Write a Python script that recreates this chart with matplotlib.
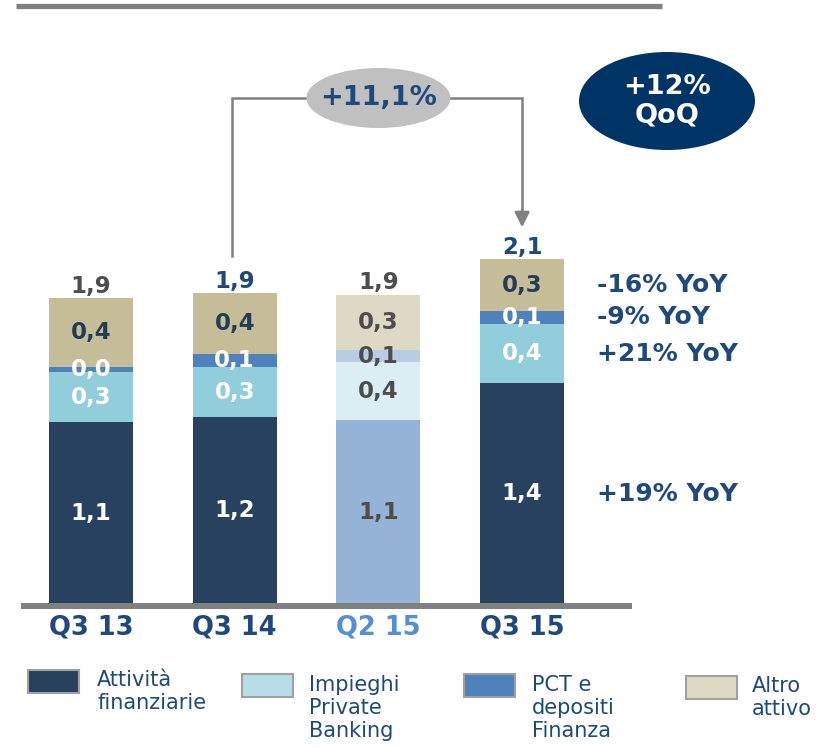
import matplotlib
matplotlib.use("Agg")
import matplotlib.pyplot as plt
import matplotlib.patches as mpatches
from matplotlib.lines import Line2D

# ===== DATI =====
periods = ["Q3 13", "Q3 14", "Q2 15", "Q3 15"]
attivita_fin = [1.13, 1.16, 1.14, 1.37]
impieghi_pb = [0.31, 0.31, 0.36, 0.37]
pct_depositi = [0.03, 0.08, 0.08, 0.08]
altro_attivo = [0.43, 0.38, 0.34, 0.32]
yoy_labels = ["+19% YoY", "+21% YoY", "-9% YoY", "-16% YoY"]
growth_label = "+11,1%"
qoq_label = "+12%\nQoQ"
legend_labels = ["Attività\nfinanziarie", "Impieghi\nPrivate\nBanking",
                 "PCT e\ndepositi\nFinanza", "Altro\nattivo"]

series = [attivita_fin, impieghi_pb, pct_depositi, altro_attivo]

# colori: normali e sbiaditi (Q2 15)
colors = ["#27415F", "#92CDDC", "#4F81BD", "#C4BD97"]
faded = ["#95B3D7", "#DAEEF3", "#B8CCE4", "#DDD9C4"]
legend_colors = ["#27415F", "#B7DEE8", "#4F81BD", "#DDD9C4"]
NAVY = "#1F497D"
GRAY_TXT = "#4D4D4D"

W, H = 823, 748
plt.rcParams["font.family"] = "DejaVu Sans"

fig = plt.figure(figsize=(W / 100, H / 100), dpi=100)

# pixel -> frazione della figura
def px(x, y):
    return x / W, 1 - y / H

base_px = 604
unit_px = 161
step_px = 143.7
x0_px = 91

ax = fig.add_axes([0, (H - base_px) / H, 1, base_px / H])
ax.set_xlim(-x0_px / step_px, (W - x0_px) / step_px)
ax.set_ylim(0, base_px / unit_px)
ax.axis("off")

xs = list(range(len(periods)))
width = 84 / step_px
bottoms = [0.0] * len(periods)

for s_idx, vals in enumerate(series):
    for i, v in enumerate(vals):
        col = faded[s_idx] if i == 2 else colors[s_idx]
        ax.bar(xs[i], v, width=width, bottom=bottoms[i], color=col, linewidth=0)
        # etichetta del segmento
        if i == 2:
            tcol = GRAY_TXT
        elif s_idx == 3:
            tcol = "#243B5A"
        else:
            tcol = "white"
        ax.text(xs[i], bottoms[i] + v / 2, f"{v:.1f}".replace(".", ","),
                ha="center", va="center", fontsize=16.5, fontweight="bold",
                color=tcol)
    bottoms = [b + v for b, v in zip(bottoms, vals)]

totals = bottoms
total_colors = [GRAY_TXT, NAVY, GRAY_TXT, NAVY]
for i, t in enumerate(totals):
    ax.annotate(f"{t:.1f}".replace(".", ","), (xs[i], t), xytext=(0, 4),
                textcoords="offset points", ha="center", va="baseline",
                fontsize=16.5, fontweight="bold", color=total_colors[i])

# etichette categorie
cat_colors = [NAVY, NAVY, "#558ED5", NAVY]
for i, p in enumerate(periods):
    ax.text(xs[i], -23 / unit_px, p, ha="center", va="center",
            fontsize=18.5, fontweight="bold", color=cat_colors[i],
            clip_on=False)

# YoY a destra dell'ultima barra
last = len(periods) - 1
b = 0.0
for s_idx, vals in enumerate(series):
    ax.text((597 - x0_px) / step_px, b + vals[last] / 2, yoy_labels[s_idx],
            ha="left", va="center", fontsize=18, fontweight="bold", color=NAVY)
    b += vals[last]

# connettore +11,1%
top_y = (base_px - 98) / unit_px
conn = [(xs[1] - 0.02, totals[1] + 0.23), (xs[1] - 0.02, top_y),
        (xs[3], top_y), (xs[3], totals[3] + 0.30)]
ax.plot([c[0] for c in conn], [c[1] for c in conn], color="#808080",
        lw=1.8, solid_joinstyle="miter", zorder=2)
ax.annotate("", xy=(xs[3], totals[3] + 0.20), xytext=(xs[3], totals[3] + 0.31),
            arrowprops=dict(arrowstyle="-|>,head_length=0.9,head_width=0.45",
                            color="#808080", lw=1.8, shrinkA=0, shrinkB=0))
ell = mpatches.Ellipse(((xs[1] + xs[3]) / 2, top_y), 144 / step_px,
                       60 / unit_px, facecolor="#C0C0C0", edgecolor="none",
                       zorder=3)
ax.add_patch(ell)
ax.text((xs[1] + xs[3]) / 2, top_y, growth_label, ha="center", va="center",
        fontsize=19.5, fontweight="bold", color=NAVY, zorder=4)

# cerchio QoQ
qoq = mpatches.Ellipse(((667 - x0_px) / step_px, (base_px - 101) / unit_px),
                       176 / step_px, 98 / unit_px, facecolor="#003366",
                       edgecolor="none", zorder=3)
ax.add_patch(qoq)
ax.text((667 - x0_px) / step_px, (base_px - 101) / unit_px, qoq_label,
        ha="center", va="center", fontsize=19.5, fontweight="bold",
        color="white", linespacing=1.15, zorder=4)

# linee grigie (asse e linea superiore)
fig.add_artist(Line2D([21 / W, 632 / W], [1 - 606 / H] * 2, color="#808080",
                      lw=4.3, solid_capstyle="butt"))
fig.add_artist(Line2D([16 / W, 662 / W], [1 - 5.5 / H] * 2, color="#808080",
                      lw=3.8, solid_capstyle="butt"))

# legenda manuale
leg_boxes = [(28, 670), (242, 674), (464, 674), (686, 676)]
leg_text_x = [97, 309, 532, 752]
leg_text_y = [670, 675, 675, 676]
for k, lab in enumerate(legend_labels):
    bx, by = leg_boxes[k]
    fx, fy = px(bx, by + 23)
    fig.add_artist(mpatches.Rectangle((fx, fy), 51 / W, 23 / H,
                                      facecolor=legend_colors[k],
                                      edgecolor="#A0A0A0", lw=1.5,
                                      transform=fig.transFigure))
    tx, ty = px(leg_text_x[k], leg_text_y[k])
    fig.text(tx, ty, lab, ha="left", va="top", fontsize=15, color=NAVY,
             linespacing=1.2)

fig.savefig("out.png", dpi=100)
